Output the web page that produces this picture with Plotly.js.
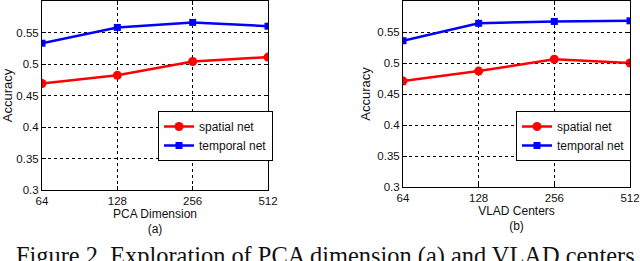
<!DOCTYPE html>
<html>
<head>
<meta charset="utf-8">
<script src="https://cdn.plot.ly/plotly-3.0.1.min.js"></script>
<style>html,body{margin:0;padding:0;background:#fff;}#chart{width:640px;height:261px;}</style>
</head>
<body>
<div id="chart"></div>
<script>
// Data
const dims = [64, 128, 256, 512];
const tickLabels = ['64', '128', '256', '512'];
const pcaSpatial = [0.469, 0.482, 0.504, 0.511];
const pcaTemporal = [0.533, 0.558, 0.566, 0.560];
const vladSpatial = [0.471, 0.487, 0.506, 0.500];
const vladTemporal = [0.536, 0.564, 0.567, 0.568];
const yTicks = [0.3, 0.35, 0.4, 0.45, 0.5, 0.55];
const yTickLabels = ['0.3', '0.35', '0.4', '0.45', '0.5', '0.55'];
const seriesNames = ['spatial net', 'temporal net'];
const caption = 'Figure 2. Exploration of PCA dimension (a) and VLAD centers';

const RED = '#ff0000', BLUE = '#0000ff';
const SANS = 'Liberation Sans, Arial, sans-serif';
const tickFont = {family: SANS, size: 11.5, color: '#111'};

function mk(x, y, name, color, symbol, msize, xa, ya, leg) {
  return {x: x, y: y, name: name, type: 'scatter', mode: 'lines+markers',
    line: {color: color, width: 2.5}, marker: {color: color, symbol: symbol, size: msize},
    xaxis: xa, yaxis: ya, legend: leg, showlegend: true};
}

const traces = [
  mk(dims, pcaSpatial, seriesNames[0], RED, 'circle', 9, 'x', 'y', 'legend'),
  mk(dims, pcaTemporal, seriesNames[1], BLUE, 'square', 7, 'x', 'y', 'legend'),
  mk(dims, vladSpatial, seriesNames[0], RED, 'circle', 9, 'x2', 'y2', 'legend2'),
  mk(dims, vladTemporal, seriesNames[1], BLUE, 'square', 7, 'x2', 'y2', 'legend2')
];

function xax(domain, anchor, title) {
  return {domain: domain, anchor: anchor, type: 'log',
    range: [Math.log10(64), Math.log10(512)],
    tickvals: dims, ticktext: tickLabels, ticks: 'inside', ticklen: 4, tickcolor: '#000',
    showline: true, linecolor: '#000', linewidth: 1, mirror: 'ticks',
    showgrid: true, gridcolor: '#000', griddash: 'dot', gridwidth: 1,
    tickfont: tickFont, zeroline: false,
    title: {text: title, font: {family: SANS, size: 12, color: '#111'}, standoff: 1}};
}
function yax(domain, anchor) {
  return {domain: domain, anchor: anchor, range: [0.3, 0.6],
    tickvals: yTicks, ticktext: yTickLabels, ticks: 'inside', ticklen: 4, tickcolor: '#000',
    showline: true, linecolor: '#000', linewidth: 1, mirror: 'ticks',
    showgrid: true, gridcolor: '#000', griddash: 'dot', gridwidth: 1,
    tickfont: tickFont, zeroline: false,
    title: {text: 'Accuracy', font: {family: SANS, size: 13, color: '#111'}, standoff: 3}};
}

const legStyle = {bordercolor: '#000', borderwidth: 1, bgcolor: '#fff',
  font: {family: SANS, size: 12, color: '#111'},
  xanchor: 'left', yanchor: 'top', tracegroupgap: 0, itemwidth: 30};

const layout = {
  width: 640, height: 261,
  margin: {l: 0, r: 0, t: 0, b: 0},
  paper_bgcolor: '#fff', plot_bgcolor: '#fff',
  xaxis: xax([42/640, 268/640], 'y', 'PCA Dimension<br>(a)'),
  yaxis: yax([1 - 190/261, 1 - 1/261], 'x'),
  xaxis2: xax([403/640, 630/640], 'y2', 'VLAD Centers<br>(b)'),
  yaxis2: yax([1 - 187/261, 1 - 1/261], 'x2'),
  legend: Object.assign({x: 158/640, y: 1 - 111/261}, legStyle),
  legend2: Object.assign({x: 516/640, y: 1 - 111/261}, legStyle),
  annotations: [{text: caption, xref: 'paper', yref: 'paper', x: 14/640, y: 1 - 240/261,
    xanchor: 'left', yanchor: 'top', showarrow: false,
    font: {family: 'Liberation Serif, Times New Roman, serif', size: 24.4, color: '#111'}}]
};

Plotly.newPlot('chart', traces, layout, {displayModeBar: false, staticPlot: true});
</script>
</body>
</html>
